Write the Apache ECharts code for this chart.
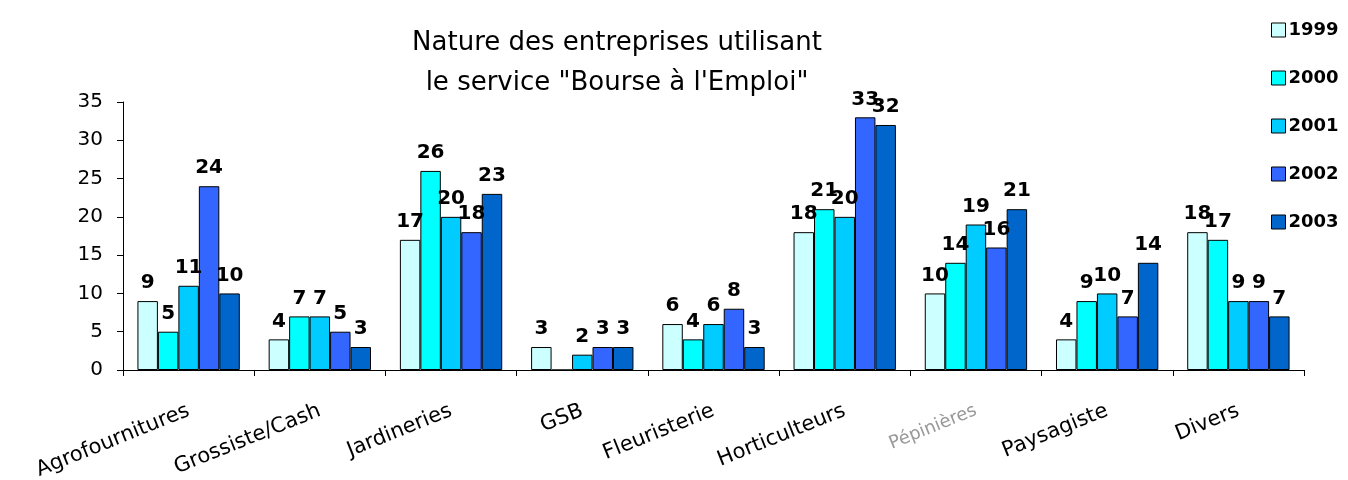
<!DOCTYPE html>
<html><head><meta charset="utf-8">
<script src="https://cdn.jsdelivr.net/npm/echarts@6/dist/echarts.min.js"></script>
<style>html,body{margin:0;padding:0;background:#fff}#c{width:1348px;height:480px}</style>
</head><body><div id="c"></div>
<script>
const categories = ['Agrofournitures','Grossiste/Cash','Jardineries','GSB','Fleuristerie','Horticulteurs','Pépinières','Paysagiste','Divers'];
const years = ['1999','2000','2001','2002','2003'];
const v1999 = [9,4,17,3,6,18,10,4,18];
const v2000 = [5,7,26,0,4,21,14,9,17];
const v2001 = [11,7,20,2,6,20,19,10,9];
const v2002 = [24,5,18,3,8,33,16,7,9];
const v2003 = [10,3,23,3,3,32,21,14,7];
const yTicks = [0,5,10,15,20,25,30,35];
const colors = ['#CCFFFF','#00FFFF','#00CCFF','#3366FF','#0066CC'];
const FONT = '"DejaVu Sans", sans-serif';
const values = [v1999,v2000,v2001,v2002,v2003];
const chart = echarts.init(document.getElementById('c'));
chart.setOption({
  animation:false,
  color: colors,
  title:{text:'Nature des entreprises utilisant\nle service "Bourse à l\'Emploi"', left:612, textAlign:'center', top:18,
    textStyle:{fontFamily:FONT,fontSize:26,fontWeight:'normal',color:'#000',lineHeight:40}},
  legend:{orient:'vertical', left:1266, top:16, itemWidth:14, itemHeight:14, itemGap:30, icon:'rect',
    textStyle:{fontFamily:FONT,fontSize:18,fontWeight:'bold',color:'#000',padding:[0,0,0,-2]},
    itemStyle:{borderColor:'#000',borderWidth:1}},
  grid:{left:123,right:44,top:102,bottom:110,outerBoundsMode:'none',containLabel:false},
  xAxis:{type:'category',data:categories,
    axisLine:{lineStyle:{color:'#000',width:1}},
    axisTick:{show:true,alignWithLabel:false,length:6,lineStyle:{color:'#000'}},
    axisLabel:{rotate:22,interval:0,fontFamily:FONT,fontSize:21,color:'#000',margin:40,
      formatter:function(v){return v==='Pépinières'?'{g|'+v+'}':v;},
      rich:{g:{color:'#999',fontFamily:FONT,fontSize:18}}}},
  yAxis:{type:'value',min:0,max:35,interval:5,
    axisLine:{show:true,lineStyle:{color:'#000'}},
    axisTick:{show:true,length:6,lineStyle:{color:'#000'}},
    splitLine:{show:false},
    axisLabel:{fontFamily:FONT,fontSize:20,color:'#000',margin:20,
      formatter:function(v){return yTicks.indexOf(v)>=0?String(v):'';}}},
  series: years.map((y,i)=>({
    name:y,type:'bar',data:values[i],barGap:'0%',barCategoryGap:'22%',
    itemStyle:{borderColor:'#000',borderWidth:1},
    label:{show:true,position:'top',distance:8,fontFamily:FONT,fontSize:20,fontWeight:'bold',color:'#000',
      formatter:function(p){return p.value===0?'':String(p.value);}}
  }))
});
</script></body></html>
